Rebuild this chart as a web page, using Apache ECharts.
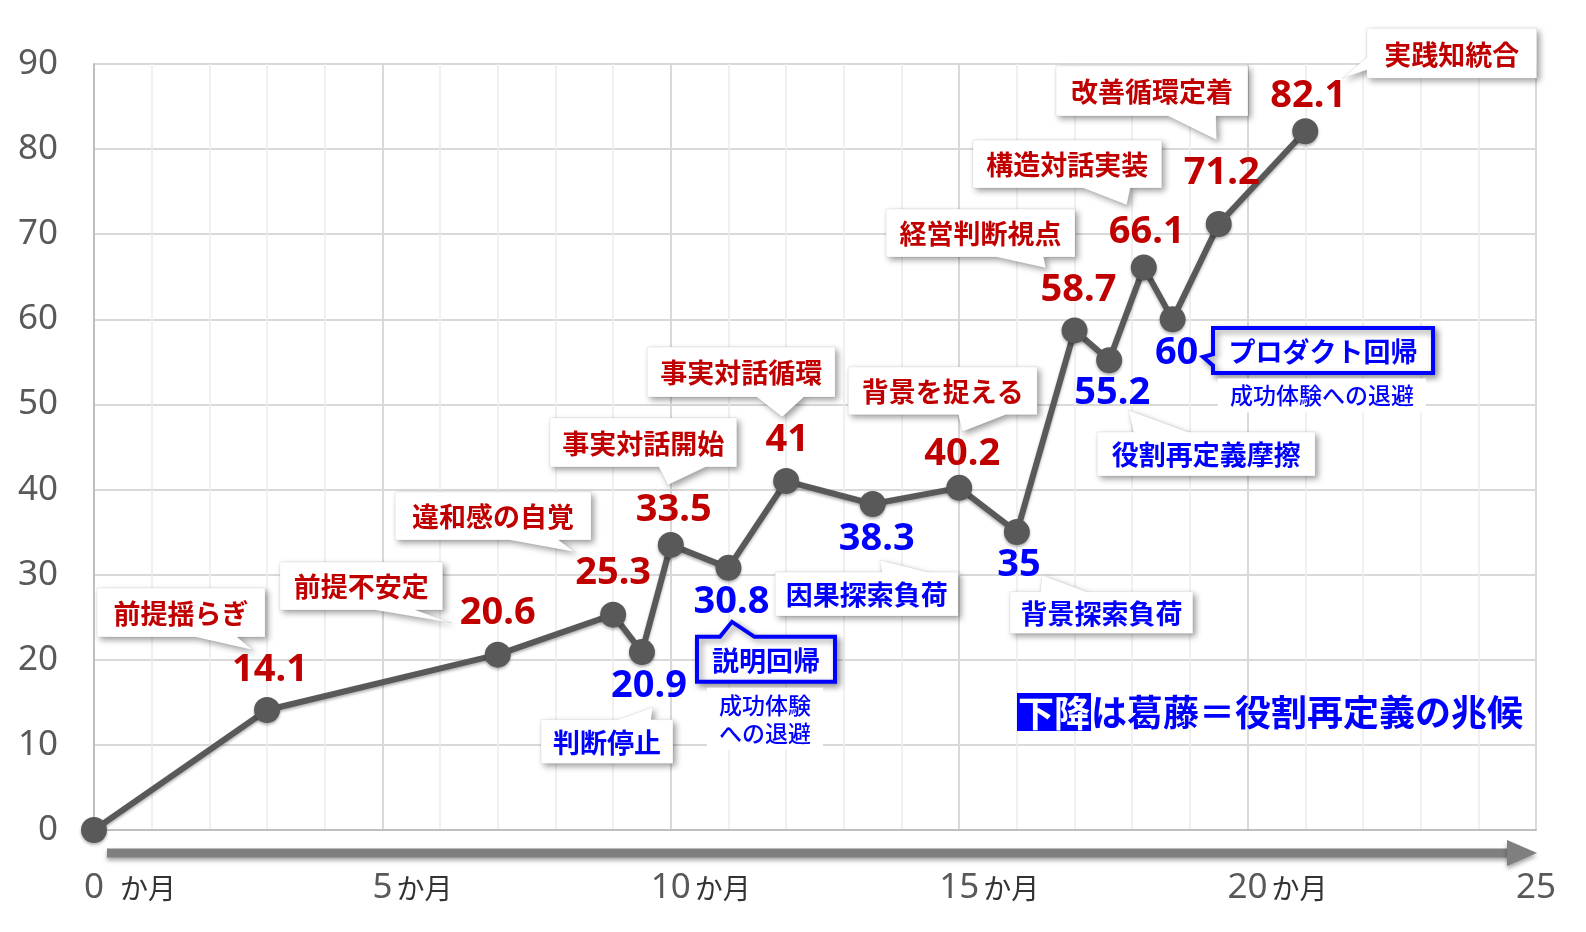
<!DOCTYPE html>
<html><head><meta charset="utf-8">
<script src="https://cdn.jsdelivr.net/npm/echarts@6/dist/echarts.min.js"></script>
<style>html,body{margin:0;padding:0;background:#fff}#c{width:1586px;height:932px}</style>
</head><body><div id="c"></div>
<script>
// ---------------- data ----------------
const months = [0, 3, 7, 9, 9.5, 10, 11, 12, 13.5, 15, 16, 17, 17.6, 18.2, 18.7, 19.5, 21];
const scores = [0, 14.1, 20.6, 25.3, 20.9, 33.5, 30.8, 41, 38.3, 40.2, 35, 58.7, 55.2, 66.1, 60, 71.2, 82.1];
const notes = ['', '前提揺らぎ', '前提不安定', '違和感の自覚', '判断停止', '事実対話開始', '説明回帰',
  '事実対話循環', '因果探索負荷', '背景を捉える', '背景探索負荷', '経営判断視点', '役割再定義摩擦',
  '構造対話実装', 'プロダクト回帰', '改善循環定着', '実践知統合'];
const subNoteIdx = [6, 14];
const subNoteText = ['成功体験\nへの退避', '成功体験への退避'];
const boxedIdx = [6, 14];
const xTickValues = [0, 5, 10, 15, 20, 25];
const xUnit = 'か月';
const yTicks = [0, 10, 20, 30, 40, 50, 60, 70, 80, 90];
const keyNoteHighlight = '下降';
const keyNoteRest = 'は葛藤＝役割再定義の兆候';

// ---------------- layout (pixel offsets, not data) ----------------
const RED = '#C00000', BLUE = '#0000FF', GRAY = '#595959';
const valueLabelOffset = {
  1: [3, -40], 2: [0, -41], 3: [0, -41], 4: [7, 34], 5: [3, -35], 6: [3, 34], 7: [1, -41],
  8: [4, 35], 9: [3, -34], 10: [2, 33], 11: [4, -40], 12: [3, 33], 13: [3, -35], 14: [4, 34],
  15: [3, -51], 16: [3, -35]
};
const callout = {
  1: {box: [-86, -97.5], size: [168, 49], tip: [-14, -60]},
  2: {box: [-136.5, -68.7], size: [163, 48], tip: [-46, -31.7]},
  3: {box: [-120, -98.7], size: [196, 48], tip: [-38, -62.7]},
  4: {box: [-35, 89.5], size: [132, 44], tip: [11, 55]},
  5: {box: [-27.5, -102.5], size: [187, 49], tip: [-3, -60]},
  6: {box: [37.5, 91.5], size: [138, 45], tip: [3.5, 54]},
  7: {box: [-45, -109], size: [188, 50], tip: [-4, -64]},
  8: {box: [-6, 90], size: [183, 44], tip: [7, 56]},
  9: {box: [-16.5, -97], size: [189, 48], tip: [3, -56]},
  10: {box: [84.5, 80.5], size: [183, 42], tip: [25, 43]},
  11: {box: [-94, -97.4], size: [189, 48], tip: [-28.6, -62.4]},
  12: {box: [97, 93.8], size: [218, 44], tip: [19, 49.8]},
  13: {box: [-76.5, -103.4], size: [189, 48], tip: [-17, -62.4]},
  14: {box: [150.4, 31.2], size: [220, 45], tip: [30.4, 37.7]},
  15: {box: [-66.8, -133], size: [192, 50], tip: [-2, -84]},
  16: {box: [146.5, -78], size: [170, 50], tip: [37, -53]}
};
const subNoteOffset = {6: [36.5, 151], 14: [149.4, 76.2]};

const isFall = scores.map((v, i) => i > 0 && v < scores[i - 1]);

function wedge(cx, cy, w, h, tx, ty) {
  const x0 = cx - w / 2, x1 = cx + w / 2, y0 = cy - h / 2, y1 = cy + h / 2;
  const dx = tx - cx, dy = ty - cy;
  const TL = [x0, y0], TR = [x1, y0], BR = [x1, y1], BL = [x0, y1], T = [tx, ty];
  if (Math.abs(dx) / w > Math.abs(dy) / h) {
    const ya = dy > 0 ? y0 + h * 7 / 12 : y0 + h * 2 / 12;
    const yb = dy > 0 ? y0 + h * 10 / 12 : y0 + h * 5 / 12;
    if (dx > 0) return [TL, TR, [x1, ya], T, [x1, yb], BR, BL];
    return [TL, TR, BR, BL, [x0, yb], T, [x0, ya]];
  } else {
    const xa = dx > 0 ? x0 + w * 7 / 12 : x0 + w * 2 / 12;
    const xb = dx > 0 ? x0 + w * 10 / 12 : x0 + w * 5 / 12;
    if (dy > 0) return [TL, TR, BR, [xb, y1], T, [xa, y1], BL];
    return [TL, [xa, y0], T, [xb, y0], TR, BR, BL];
  }
}

const lineData = months.map((m, i) => ({
  value: [m, scores[i]],
  label: i === 0 ? {show: false} : {
    show: true, position: 'inside', offset: valueLabelOffset[i],
    color: isFall[i] ? BLUE : RED
  }
}));

const noteData = notes.map((n, i) => [months[i], scores[i], i]).filter(d => notes[d[2]]);

const CJK = '"Noto Sans CJK JP", "Noto Sans", sans-serif';

const chart = echarts.init(document.getElementById('c'), null, {renderer: 'canvas'});
chart.setOption({
  animation: false,
  backgroundColor: '#fff',
  grid: {left: 94, right: 50, top: 64, bottom: 102},
  xAxis: {
    type: 'value', min: 0, max: 25, interval: 5,
    axisLine: {show: true, lineStyle: {color: '#bfbfbf', width: 2}},
    axisTick: {show: false},
    minorTick: {show: false, splitNumber: 5},
    minorSplitLine: {show: true, lineStyle: {color: '#ebebeb', width: 1.5}},
    splitLine: {show: true, lineStyle: {color: '#d9d9d9', width: 2}},
    axisLabel: {
      margin: 38,
      formatter: v => {
        if (xTickValues.indexOf(v) < 0) return '';
        if (v === 25) return '{n|' + v + '}';
        if (v === 0) return '{s0|}{n|' + v + '}{u0|' + xUnit + '}';
        return '{s|}{n|' + v + '}{u|' + xUnit + '}';
      },
      rich: {
        n: {fontSize: 35, color: GRAY, fontFamily: 'Noto Sans', lineHeight: 40},
        s: {width: 60},
        u: {width: 56, padding: [0, 0, 0, 4], fontSize: 28, color: '#333', fontFamily: CJK},
        s0: {width: 72},
        u0: {width: 56, padding: [0, 0, 0, 16], fontSize: 28, color: '#333', fontFamily: CJK}
      }
    }
  },
  yAxis: {
    type: 'value', min: 0, max: 90, interval: 10,
    axisLine: {show: true, lineStyle: {color: '#bfbfbf', width: 2}},
    axisTick: {show: false},
    splitLine: {show: true, lineStyle: {color: '#d9d9d9', width: 2}},
    axisLabel: {
      margin: 36, fontSize: 35, color: GRAY, fontFamily: 'Noto Sans',
      formatter: v => yTicks.indexOf(v) >= 0 ? String(v) : ''
    }
  },
  series: [
    {
      type: 'custom', coordinateSystem: 'cartesian2d', clip: false, z: 3,
      data: noteData,
      renderItem: (params, api) => {
        const i = api.value(2);
        const p = api.coord([api.value(0), api.value(1)]);
        const L = callout[i];
        const cx = p[0] + L.box[0], cy = p[1] + L.box[1];
        const w = L.size[0], h = L.size[1];
        const pts = wedge(cx, cy, w, h, p[0] + L.tip[0], p[1] + L.tip[1]);
        const color = isFall[i] ? BLUE : RED;
        const boxed = boxedIdx.indexOf(i) >= 0;
        const children = [
          {type: 'polygon', shape: {points: pts}, style: {
            fill: '#fff', stroke: boxed ? BLUE : 'rgba(0,0,0,0.07)', lineWidth: boxed ? 4 : 1,
            shadowBlur: 6, shadowColor: 'rgba(0,0,0,0.38)', shadowOffsetX: 3, shadowOffsetY: 3
          }},
          {type: 'text', style: {
            x: cx, y: cy + 1, text: notes[i], fill: color,
            font: 'bold 27px ' + CJK, align: 'center', verticalAlign: 'middle'
          }}
        ];
        const k = subNoteIdx.indexOf(i);
        if (k >= 0) {
          const o = subNoteOffset[i];
          children.push({type: 'text', style: {
            x: p[0] + o[0], y: p[1] + o[1], text: subNoteText[k], fill: color,
            font: '500 23px ' + CJK, align: 'center', verticalAlign: 'middle',
            lineHeight: 28, backgroundColor: '#fff', padding: [3, 12]
          }});
        }
        return {type: 'group', children};
      }
    },
    {
      type: 'line', z: 4,
      data: lineData,
      symbol: 'circle', symbolSize: 26,
      itemStyle: {color: GRAY, shadowBlur: 3, shadowColor: 'rgba(0,0,0,0.3)', shadowOffsetY: 2},
      lineStyle: {color: GRAY, width: 6, shadowBlur: 3, shadowColor: 'rgba(0,0,0,0.3)', shadowOffsetY: 2},
      label: {
        fontSize: 38, fontWeight: 'bold', fontFamily: 'Noto Sans',
        formatter: p => String(p.value[1])
      },
      emphasis: {disabled: true}
    }
  ],
  graphic: [
    {type: 'line', z: 1, shape: {x1: 107, y1: 853, x2: 1512, y2: 853},
      style: {stroke: '#7f7f7f', lineWidth: 9, shadowBlur: 4, shadowColor: 'rgba(0,0,0,0.35)', shadowOffsetY: 3}},
    {type: 'polygon', z: 1, shape: {points: [[1507, 840], [1537, 853], [1507, 866]]},
      style: {fill: '#7f7f7f', shadowBlur: 4, shadowColor: 'rgba(0,0,0,0.35)', shadowOffsetY: 3}},
    {type: 'text', z: 10, x: 1017, y: 712, style: {
      text: '{a|' + keyNoteHighlight + '}{b|' + keyNoteRest + '}',
      verticalAlign: 'middle',
      rich: {
        a: {backgroundColor: BLUE, fill: '#fff', font: 'bold 36px ' + CJK, padding: [2, 1, 0, 1]},
        b: {fill: BLUE, font: 'bold 36px ' + CJK}
      }
    }}
  ]
});
</script></body></html>
